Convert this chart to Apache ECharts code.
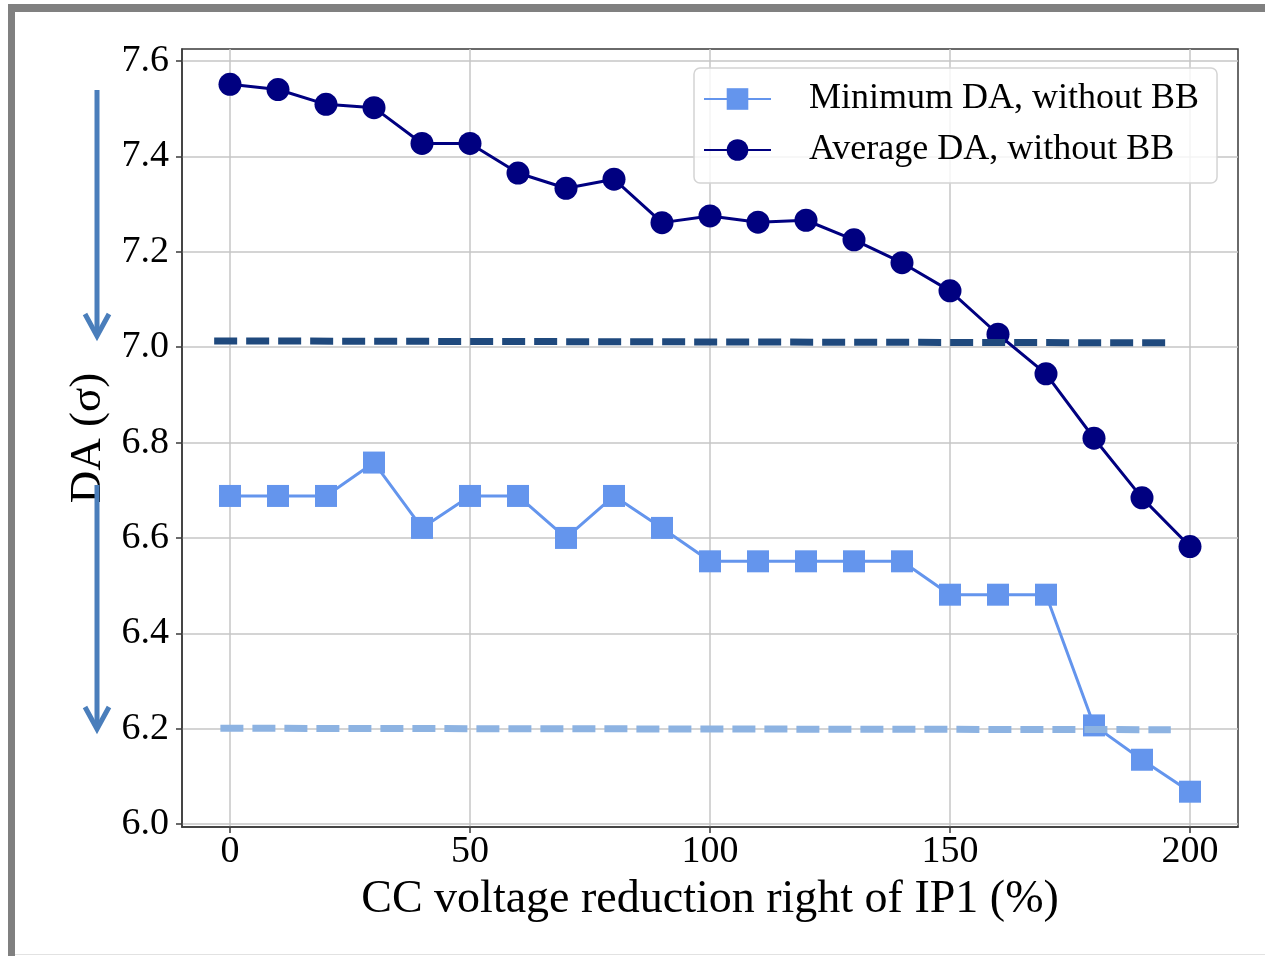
<!DOCTYPE html>
<html>
<head>
<meta charset="utf-8">
<script src="https://cdn.jsdelivr.net/npm/echarts@6/dist/echarts.min.js"></script>
<style>
  html, body { margin: 0; padding: 0; background: #ffffff; }
  #chart { width: 1265px; height: 956px; }
</style>
</head>
<body>
<div id="chart"></div>
<script>
// CC voltage reduction right of IP1 (%)
const voltageReduction = [0, 10, 20, 30, 40, 50, 60, 70, 80, 90, 100, 110, 120, 130, 140, 150, 160, 170, 180, 190, 200];

// Dynamic aperture in units of sigma
const minimumDA = [6.688, 6.688, 6.688, 6.758, 6.621, 6.688, 6.688, 6.600, 6.688, 6.621, 6.551,
                   6.551, 6.551, 6.551, 6.551, 6.481, 6.481, 6.481, 6.207, 6.135, 6.068];
const averageDA = [7.551, 7.540, 7.509, 7.502, 7.427, 7.427, 7.365, 7.333, 7.352, 7.261, 7.275,
                   7.262, 7.266, 7.225, 7.177, 7.118, 7.027, 6.944, 6.809, 6.684, 6.582];

// Reference levels (drawn dashed across the scan)
const averageRefX = [-3.3, 195];
const averageRefY = [7.013, 7.009];
const minimumRefX = [-2, 196];
const minimumRefY = [6.201, 6.198];

// Tick labels
const xTicks = [0, 50, 100, 150, 200];
const yTicks = [6.0, 6.2, 6.4, 6.6, 6.8, 7.0, 7.2, 7.4, 7.6];

const seriesNames = ['Minimum DA, without BB', 'Average DA, without BB'];

const FONT = 'Liberation Serif';
const pair = (xsArr, ysArr) => xsArr.map((x, i) => [x, ysArr[i]]);

const chart = echarts.init(document.getElementById('chart'), null, { renderer: 'canvas' });

const arrowColor = '#4a7ebb';
function arrow(x, y0, y1) {
  return [
    { type: 'polyline', z: 100, shape: { points: [[x, y0], [x, y1 - 3]] },
      style: { stroke: arrowColor, lineWidth: 5, fill: null } },
    { type: 'polyline', z: 100, shape: { points: [[x - 12, y1 - 22], [x, y1], [x + 12, y1 - 22]] },
      style: { stroke: arrowColor, lineWidth: 5, fill: null, lineJoin: 'miter' } }
  ];
}

const option = {
  backgroundColor: '#ffffff',
  animation: false,
  grid: {
    left: 182, top: 49, width: 1056, height: 778,
    show: true, borderColor: '#3a3a3a', borderWidth: 1.5, backgroundColor: 'transparent'
  },
  legend: {
    left: 694, top: 68,
    orient: 'vertical',
    data: seriesNames,
    itemWidth: 67, itemHeight: 27, itemGap: 15,
    padding: [13, 18, 15, 9],
    backgroundColor: 'rgba(255,255,255,0.8)',
    borderColor: '#d4d4d4', borderWidth: 1.5, borderRadius: 6,
    textStyle: { fontFamily: FONT, fontSize: 36, color: '#000', padding: [0, 0, 0, 33] }
  },
  xAxis: {
    type: 'value', min: -10, max: 210,
    name: 'CC voltage reduction right of IP1 (%)',
    nameLocation: 'middle', nameGap: 50,
    nameTextStyle: { fontFamily: FONT, fontSize: 46, color: '#000' },
    axisLine: { show: true, onZero: false, lineStyle: { color: '#3a3a3a', width: 1.5 } },
    axisTick: { show: true, inside: false, length: 6, customValues: xTicks, lineStyle: { color: '#3a3a3a', width: 1.5 } },
    axisLabel: { customValues: xTicks, margin: 6, fontFamily: FONT, fontSize: 38, color: '#000',
                 formatter: v => String(Math.round(v)) },
    splitLine: { show: true, lineStyle: { color: '#c6c6c6', width: 1.5 } }
  },
  yAxis: {
    type: 'value', min: 5.994, max: 7.625,
    name: 'DA (σ)',
    nameLocation: 'middle', nameGap: 71,
    nameTextStyle: { fontFamily: FONT, fontSize: 45, color: '#000' },
    axisLine: { show: true, onZero: false, lineStyle: { color: '#3a3a3a', width: 1.5 } },
    axisTick: { show: true, inside: false, length: 6, customValues: yTicks, lineStyle: { color: '#3a3a3a', width: 1.5 } },
    axisLabel: { customValues: yTicks, margin: 13, fontFamily: FONT, fontSize: 38, color: '#000',
                 formatter: v => v.toFixed(1) },
    splitLine: { show: true, lineStyle: { color: '#c6c6c6', width: 1.5 } }
  },
  series: [
    {
      name: seriesNames[0], type: 'line', z: 3,
      data: pair(voltageReduction, minimumDA),
      symbol: 'rect', symbolSize: 22,
      itemStyle: { color: '#6495ed' },
      lineStyle: { color: '#6495ed', width: 3 }
    },
    {
      name: seriesNames[1], type: 'line', z: 3,
      data: pair(voltageReduction, averageDA),
      symbol: 'circle', symbolSize: 23,
      itemStyle: { color: '#000080' },
      lineStyle: { color: '#000080', width: 3 }
    },
    {
      name: 'avg-ref', type: 'line', z: 5, silent: true,
      data: pair(averageRefX, averageRefY),
      symbol: 'none',
      lineStyle: { color: '#1f497d', width: 7, type: [23, 9], cap: 'butt' }
    },
    {
      name: 'min-ref', type: 'line', z: 5, silent: true,
      data: pair(minimumRefX, minimumRefY),
      symbol: 'none',
      lineStyle: { color: '#8db3e2', width: 7, type: [23, 9], cap: 'butt' }
    }
  ],
  graphic: [
    // picture frame
    { type: 'rect', z: 100, shape: { x: 8, y: 4, width: 1257, height: 8 }, style: { fill: '#808080' } },
    { type: 'rect', z: 100, shape: { x: 8, y: 4, width: 7, height: 952 }, style: { fill: '#808080' } },
    { type: 'rect', z: 100, shape: { x: 15, y: 954, width: 1250, height: 1 }, style: { fill: '#e2e2e2' } },
    ...arrow(97, 90, 336),
    ...arrow(97, 485, 729)
  ]
};

chart.setOption(option);
</script>
</body>
</html>
